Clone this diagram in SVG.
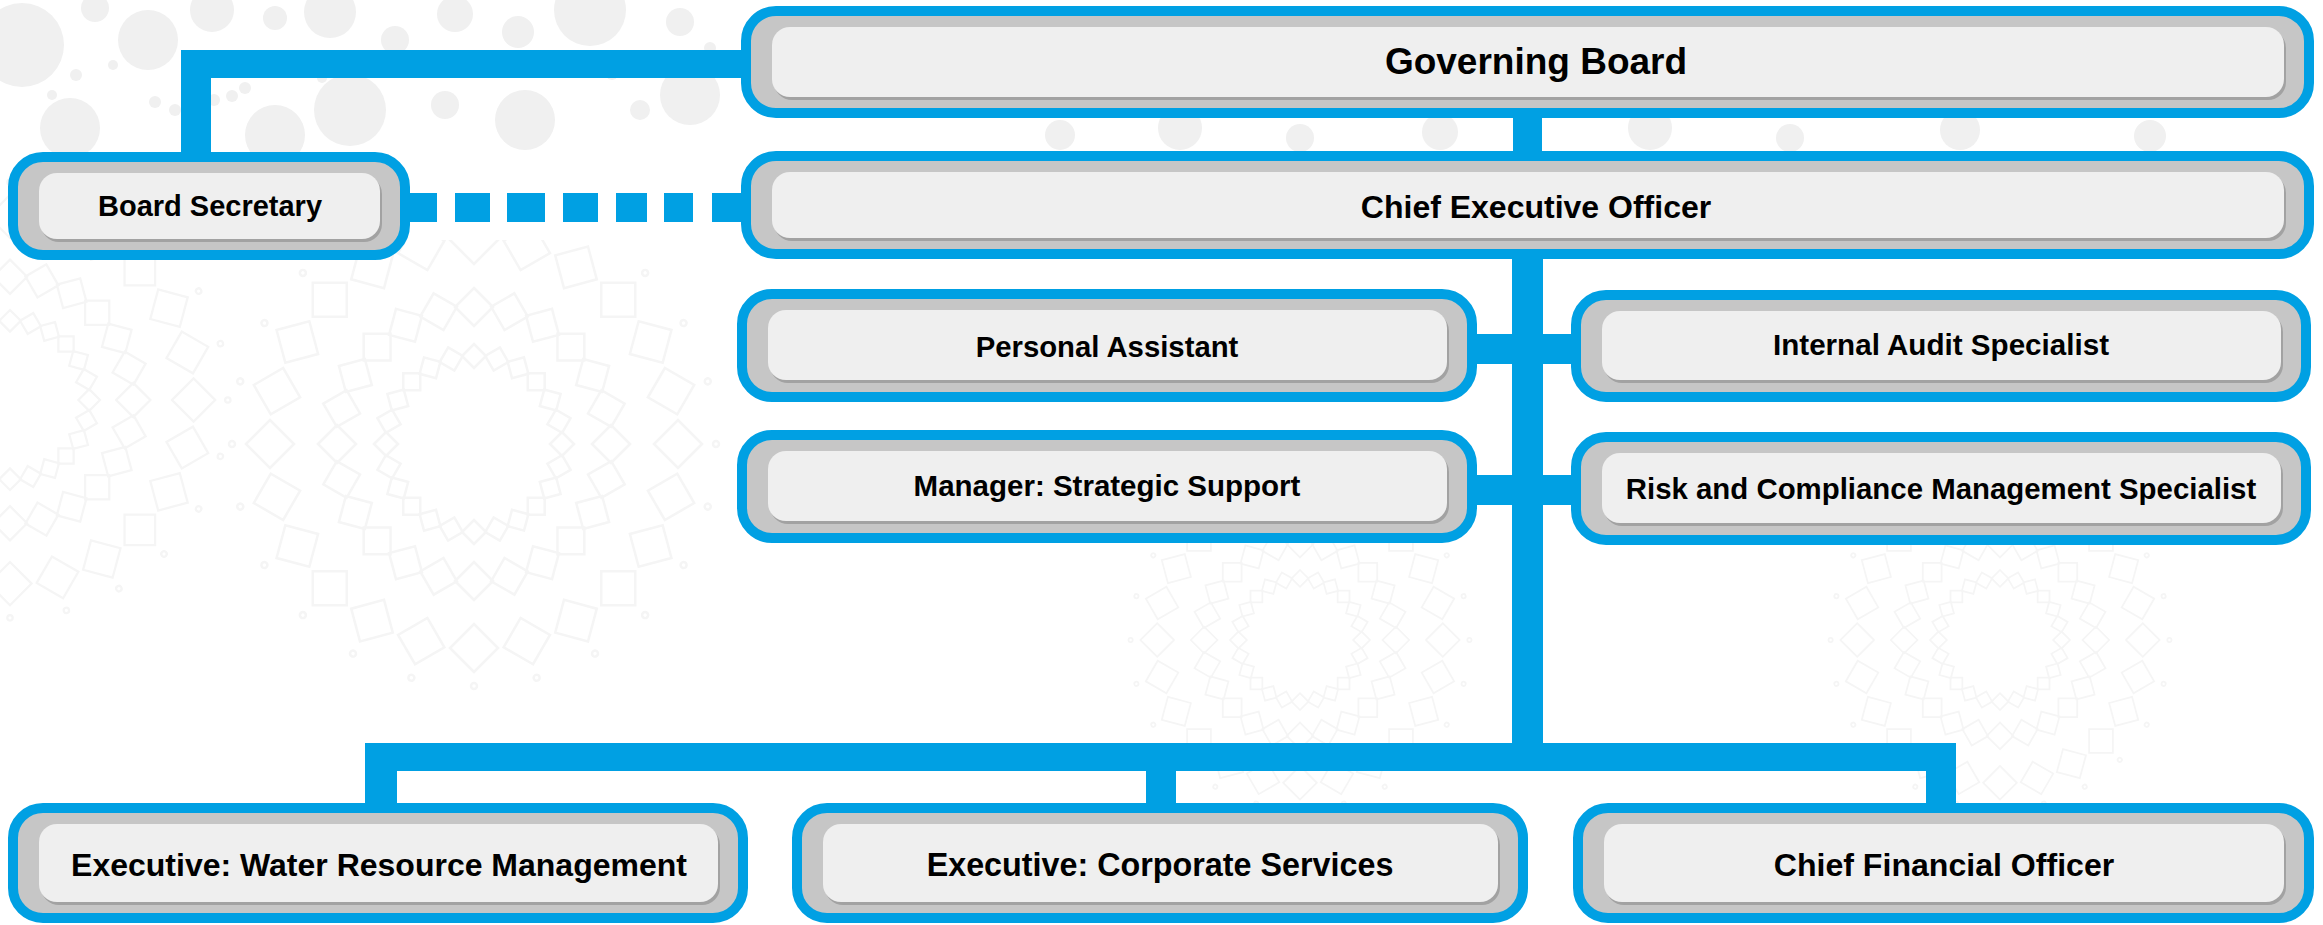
<svg xmlns="http://www.w3.org/2000/svg" width="2323" height="925" viewBox="0 0 2323 925">
  <defs>
    <style>
      .frame{fill:#c6c6c6;stroke:#00a0e3;stroke-width:10}
      .shade{fill:#a2a2a2}
      .face{fill:#efefef}
      .lbl{font-family:"Liberation Sans",Arial,sans-serif;font-weight:bold;fill:#000;text-anchor:middle}
      .wire{fill:#00a0e3}
      .dot{fill:#f0f0f0}
      .orn{fill:none;stroke:#f5f5f5;stroke-width:2.5}
    </style>
    <!-- one radial slice of the square-ring ornament -->
    <g id="petal">
      <polygon points="0,-100 12,-88 0,-76 -12,-88"/>
      <polygon points="0,-156 19,-137 0,-118 -19,-137"/>
      <polygon points="0,-228 24,-204 0,-180 -24,-204"/>
      <circle cx="0" cy="-242" r="3"/>
    </g>
    <g id="mandala" class="orn">
      <use href="#petal"/>
      <use href="#petal" transform="rotate(15)"/>
      <use href="#petal" transform="rotate(30)"/>
      <use href="#petal" transform="rotate(45)"/>
      <use href="#petal" transform="rotate(60)"/>
      <use href="#petal" transform="rotate(75)"/>
      <use href="#petal" transform="rotate(90)"/>
      <use href="#petal" transform="rotate(105)"/>
      <use href="#petal" transform="rotate(120)"/>
      <use href="#petal" transform="rotate(135)"/>
      <use href="#petal" transform="rotate(150)"/>
      <use href="#petal" transform="rotate(165)"/>
      <use href="#petal" transform="rotate(180)"/>
      <use href="#petal" transform="rotate(195)"/>
      <use href="#petal" transform="rotate(210)"/>
      <use href="#petal" transform="rotate(225)"/>
      <use href="#petal" transform="rotate(240)"/>
      <use href="#petal" transform="rotate(255)"/>
      <use href="#petal" transform="rotate(270)"/>
      <use href="#petal" transform="rotate(285)"/>
      <use href="#petal" transform="rotate(300)"/>
      <use href="#petal" transform="rotate(315)"/>
      <use href="#petal" transform="rotate(330)"/>
      <use href="#petal" transform="rotate(345)"/>
    </g>
  </defs>

  <rect width="2323" height="925" fill="#ffffff"/>

  <!-- background ornament -->
  <g id="backdrop">
    <use href="#mandala" transform="translate(474,444)"/>
    <use href="#mandala" transform="translate(10,400) scale(0.9)"/>
    <use href="#mandala" transform="translate(1300,640) scale(0.7)"/>
    <use href="#mandala" transform="translate(2000,640) scale(0.7)"/>
    <circle class="dot" cx="22" cy="45" r="42"/>
    <circle class="dot" cx="95" cy="8" r="14"/>
    <circle class="dot" cx="148" cy="40" r="30"/>
    <circle class="dot" cx="212" cy="10" r="22"/>
    <circle class="dot" cx="275" cy="18" r="12"/>
    <circle class="dot" cx="330" cy="12" r="26"/>
    <circle class="dot" cx="395" cy="40" r="14"/>
    <circle class="dot" cx="455" cy="14" r="18"/>
    <circle class="dot" cx="518" cy="32" r="16"/>
    <circle class="dot" cx="590" cy="10" r="36"/>
    <circle class="dot" cx="680" cy="22" r="14"/>
    <circle class="dot" cx="70" cy="128" r="30"/>
    <circle class="dot" cx="275" cy="135" r="30"/>
    <circle class="dot" cx="350" cy="110" r="36"/>
    <circle class="dot" cx="445" cy="105" r="14"/>
    <circle class="dot" cx="525" cy="120" r="30"/>
    <circle class="dot" cx="640" cy="110" r="10"/>
    <circle class="dot" cx="690" cy="95" r="30"/>
    <circle class="dot" cx="52" cy="95" r="5"/>
    <circle class="dot" cx="62" cy="112" r="5"/>
    <circle class="dot" cx="76" cy="75" r="6"/>
    <circle class="dot" cx="113" cy="65" r="5"/>
    <circle class="dot" cx="155" cy="102" r="6"/>
    <circle class="dot" cx="175" cy="110" r="6"/>
    <circle class="dot" cx="196" cy="104" r="6"/>
    <circle class="dot" cx="214" cy="100" r="6"/>
    <circle class="dot" cx="232" cy="96" r="6"/>
    <circle class="dot" cx="245" cy="88" r="6"/>
    <circle class="dot" cx="300" cy="62" r="5"/>
    <circle class="dot" cx="322" cy="78" r="5"/>
    <circle class="dot" cx="420" cy="70" r="5"/>
    <circle class="dot" cx="470" cy="68" r="6"/>
    <circle class="dot" cx="560" cy="64" r="5"/>
    <circle class="dot" cx="612" cy="74" r="6"/>
    <circle class="dot" cx="660" cy="60" r="5"/>
    <circle class="dot" cx="710" cy="48" r="6"/>
    <circle class="dot" cx="1060" cy="135" r="15"/>
    <circle class="dot" cx="1180" cy="128" r="22"/>
    <circle class="dot" cx="1300" cy="138" r="14"/>
    <circle class="dot" cx="1440" cy="132" r="18"/>
    <circle class="dot" cx="1650" cy="128" r="22"/>
    <circle class="dot" cx="1790" cy="138" r="14"/>
    <circle class="dot" cx="1960" cy="130" r="20"/>
    <circle class="dot" cx="2150" cy="136" r="16"/>
    <!-- clear strip behind the dotted link -->
    <rect x="405" y="172" width="340" height="68" fill="#ffffff"/>
  </g>

  <!-- connectors -->
  <g id="connectors">
    <rect class="wire" x="181" y="50" width="565" height="28"/>
    <rect class="wire" x="181" y="50" width="30" height="107"/>
    <rect class="wire" x="1513" y="113" width="29" height="45"/>
    <rect class="wire" x="1512" y="254" width="31" height="517"/>
    <rect class="wire" x="1472" y="334" width="104" height="30"/>
    <rect class="wire" x="1472" y="475" width="104" height="30"/>
    <rect class="wire" x="365" y="743" width="1591" height="28"/>
    <rect class="wire" x="365" y="743" width="32" height="65"/>
    <rect class="wire" x="1146" y="743" width="30" height="65"/>
    <rect class="wire" x="1926" y="743" width="30" height="65"/>
    <!-- dotted reporting line -->
    <rect class="wire" x="405" y="193" width="32" height="29"/>
    <rect class="wire" x="455" y="193" width="35" height="29"/>
    <rect class="wire" x="507" y="193" width="38" height="29"/>
    <rect class="wire" x="563" y="193" width="35" height="29"/>
    <rect class="wire" x="616" y="193" width="31" height="29"/>
    <rect class="wire" x="664" y="193" width="29" height="29"/>
    <rect class="wire" x="712" y="193" width="34" height="29"/>
  </g>

  <g id="governing-board">
    <rect class="frame" x="746" y="11" width="1563" height="102" rx="30"/>
    <rect class="shade" x="774" y="30" width="1512" height="70" rx="18"/>
    <rect class="face" x="772" y="27" width="1512" height="70" rx="18"/>
    <text class="lbl" x="1536" y="74" font-size="37">Governing Board</text>
  </g>

  <g id="board-secretary">
    <rect class="frame" x="13" y="157" width="392" height="98" rx="30"/>
    <rect class="shade" x="41" y="176" width="341" height="66" rx="18"/>
    <rect class="face" x="39" y="173" width="341" height="66" rx="18"/>
    <text class="lbl" x="210" y="216" font-size="29">Board Secretary</text>
  </g>

  <g id="ceo">
    <rect class="frame" x="746" y="156" width="1563" height="98" rx="30"/>
    <rect class="shade" x="774" y="175" width="1512" height="66" rx="18"/>
    <rect class="face" x="772" y="172" width="1512" height="66" rx="18"/>
    <text class="lbl" x="1536" y="217.5" font-size="32">Chief Executive Officer</text>
  </g>

  <g id="personal-assistant">
    <rect class="frame" x="742" y="294" width="730" height="103" rx="30"/>
    <rect class="shade" x="770" y="313" width="679" height="70" rx="18"/>
    <rect class="face" x="768" y="310" width="679" height="70" rx="18"/>
    <text class="lbl" x="1107" y="356.5" font-size="29.3">Personal Assistant</text>
  </g>

  <g id="internal-audit">
    <rect class="frame" x="1576" y="295" width="730" height="102" rx="30"/>
    <rect class="shade" x="1604" y="314" width="679" height="69" rx="18"/>
    <rect class="face" x="1602" y="311" width="679" height="69" rx="18"/>
    <text class="lbl" x="1941" y="355" font-size="29.6">Internal Audit Specialist</text>
  </g>

  <g id="strategic-support">
    <rect class="frame" x="742" y="435" width="730" height="103" rx="30"/>
    <rect class="shade" x="770" y="454" width="679" height="70" rx="18"/>
    <rect class="face" x="768" y="451" width="679" height="70" rx="18"/>
    <text class="lbl" x="1107" y="496" font-size="29.5">Manager: Strategic Support</text>
  </g>

  <g id="risk-compliance">
    <rect class="frame" x="1576" y="437" width="730" height="103" rx="30"/>
    <rect class="shade" x="1604" y="456" width="679" height="70" rx="18"/>
    <rect class="face" x="1602" y="453" width="679" height="70" rx="18"/>
    <text class="lbl" x="1941" y="499" font-size="29.4">Risk and Compliance Management Specialist</text>
  </g>

  <g id="exec-water">
    <rect class="frame" x="13" y="808" width="730" height="110" rx="30"/>
    <rect class="shade" x="41" y="827" width="679" height="78" rx="18"/>
    <rect class="face" x="39" y="824" width="679" height="78" rx="18"/>
    <text class="lbl" x="379" y="875.5" font-size="32">Executive: Water Resource Management</text>
  </g>

  <g id="exec-corporate">
    <rect class="frame" x="797" y="808" width="726" height="110" rx="30"/>
    <rect class="shade" x="825" y="827" width="675" height="78" rx="18"/>
    <rect class="face" x="823" y="824" width="675" height="78" rx="18"/>
    <text class="lbl" x="1160" y="875.5" font-size="32.3">Executive: Corporate Services</text>
  </g>

  <g id="cfo">
    <rect class="frame" x="1578" y="808" width="731" height="110" rx="30"/>
    <rect class="shade" x="1606" y="827" width="680" height="78" rx="18"/>
    <rect class="face" x="1604" y="824" width="680" height="78" rx="18"/>
    <text class="lbl" x="1944" y="875.5" font-size="32.1">Chief Financial Officer</text>
  </g>
</svg>
